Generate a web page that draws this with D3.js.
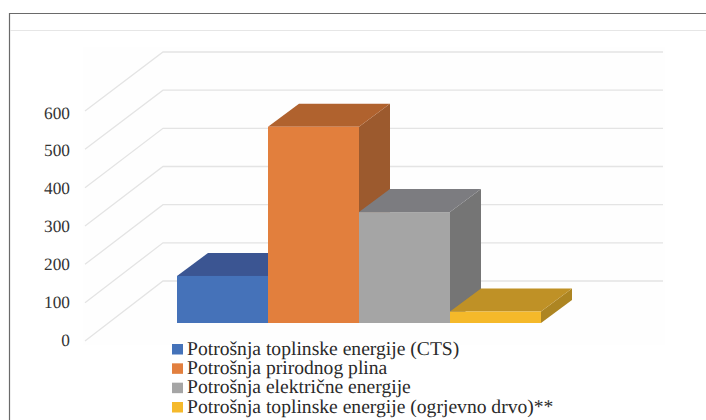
<!DOCTYPE html>
<html><head><meta charset="utf-8">
<script src="https://cdn.jsdelivr.net/npm/d3@7"></script>
<style>html,body{margin:0;padding:0;background:#fff}svg{display:block;text-rendering:geometricPrecision}</style>
</head><body><div id="c"></div>
<script>
const categories = ["Potrošnja toplinske energije (CTS)","Potrošnja prirodnog plina","Potrošnja električne energije","Potrošnja toplinske energije (ogrjevno drvo)**"];
const values = [123, 513, 290, 30];
const ticks = [0,100,200,300,400,500,600];
const frontColors = ["#4472b9","#e27f3e","#a5a5a5","#f5b92b"];
const topColors = ["#3a5592","#b0622f","#7c7c80","#bf9127"];
const sideColors = ["#35507f","#9c5a2e","#747474","#ad8524"];

const svg = d3.select("#c").append("svg").attr("width",706).attr("height",420);
svg.append("rect").attr("width",706).attr("height",420).attr("fill","#fff");
svg.append("defs").append("filter").attr("id","soft").append("feGaussianBlur").attr("stdDeviation",0.45);

// frame
svg.append("path").attr("d","M9.5,420V13.5H706").attr("fill","none").attr("stroke","#6a6a6a").attr("stroke-width",1.2);
svg.append("line").attr("x1",10).attr("x2",706).attr("y1",30.5).attr("y2",30.5).attr("stroke","#e6e6e6");
svg.append("rect").attr("x",83).attr("y",47).attr("width",582).attr("height",298).attr("fill","#fefefe");

const yFront = d3.scaleLinear().domain([0,600]).range([341,111]);
const yBack = d3.scaleLinear().domain([0,600]).range([281,52]);
const yBar = d3.scaleLinear().domain([0,600]).range([323,93.5]);
const x = d3.scaleBand().domain(categories).range([177,541]).padding(0);
const dx = 31, dy = 23;
const chart = svg.append("g").attr("filter","url(#soft)");

// gridlines
chart.append("g").selectAll("path").data(ticks).join("path")
  .attr("d",t=>`M85,${yFront(t)}L163,${yBack(t)}H663`)
  .attr("fill","none").attr("stroke","#e4e4e4").attr("stroke-width",1.3);

// bars
const bars = chart.append("g").selectAll("g").data(categories).join("g");
bars.append("path").attr("fill",(d,i)=>sideColors[i]).attr("d",(d,i)=>{
  const r=x(d)+x.bandwidth(), t=yBar(values[i]), b=yBar(0);
  return `M${r},${t}L${r+dx},${t-dy}V${b-dy}L${r},${b}Z`;});
bars.append("path").attr("fill",(d,i)=>topColors[i]).attr("d",(d,i)=>{
  const l=x(d), r=l+x.bandwidth(), t=yBar(values[i]);
  return `M${l},${t}L${l+dx},${t-dy}H${r+dx}L${r},${t}Z`;});
bars.append("rect").attr("fill",(d,i)=>frontColors[i])
  .attr("x",d=>x(d)).attr("width",x.bandwidth())
  .attr("y",(d,i)=>yBar(values[i])).attr("height",(d,i)=>yBar(0)-yBar(values[i]));

// value axis labels
const axis = svg.append("g").attr("transform","translate(70,0)")
  .call(d3.axisLeft(d3.scaleLinear().domain([0,600]).range([340,112.5])).tickValues(ticks).tickSize(0).tickPadding(0));
axis.select(".domain").remove();
axis.selectAll("text").attr("font-family","'Liberation Serif'").attr("font-size",17.3).attr("fill","#333");

// legend
const rowY = d3.scalePoint().domain(categories).range([349,407]);
const legend = svg.append("g").selectAll("g").data(categories).join("g")
  .attr("transform",d=>`translate(172,${rowY(d)})`);
legend.append("rect").attr("y",-5).attr("width",11).attr("height",10.5).attr("fill",(d,i)=>frontColors[i]);
legend.append("text").attr("x",15).attr("y",5.5).text(d=>d)
  .attr("font-family","'Liberation Serif'").attr("font-size",19.6).attr("fill","#2a2a2a");
</script></body></html>
